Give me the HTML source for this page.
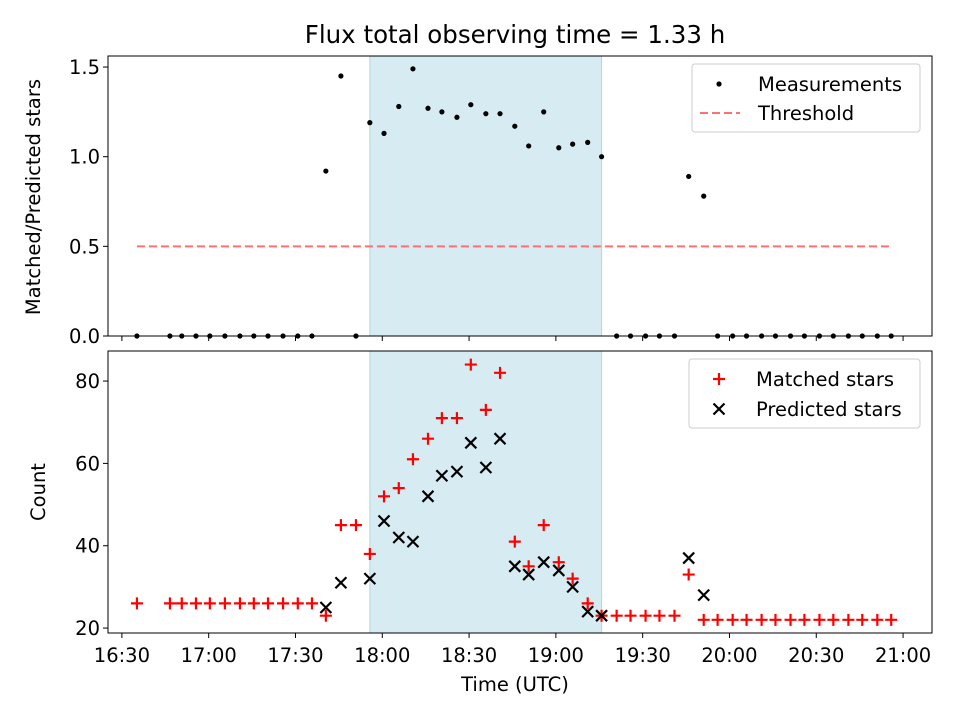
<!DOCTYPE html>
<html><head><meta charset="utf-8"><style>
body{margin:0;background:#fff;font-family:"DejaVu Sans","Liberation Sans",sans-serif}
svg text{font-family:"DejaVu Sans","Liberation Sans",sans-serif}
</style></head><body>
<svg id="chart" width="960" height="720" viewBox="0 0 960 720" xmlns="http://www.w3.org/2000/svg"></svg>
<script>
const times = [5.2,16.6,20.7,25.6,30.4,35.6,40.8,45.6,50.5,55.7,60.8,65.7,70.5,75.7,80.9,85.7,90.6,95.7,100.6,105.8,110.6,115.8,120.6,125.8,130.7,135.8,140.6,145.8,151,155.8,161,165.8,171,175.8,181,185.8,191,195.9,201.1,205.9,211.1,215.9,221.1,225.9,231.1,235.9,241.1,245.9,251.1,255.9,261.1,265.9];
const ratio = [0,0,0,0,0,0,0,0,0,0,0,0,0.92,1.45,0,1.19,1.13,1.28,1.49,1.27,1.25,1.22,1.29,1.24,1.24,1.17,1.06,1.25,1.05,1.07,1.08,1.00,0,0,0,0,0,0.89,0.78,0,0,0,0,0,0,0,0,0,0,0,0,0];
const matched = [26,26,26,26,26,26,26,26,26,26,26,26,23,45,45,38,52,54,61,66,71,71,84,73,82,41,35,45,36,32,26,23,23,23,23,23,23,33,22,22,22,22,22,22,22,22,22,22,22,22,22,22];
const predicted = [null,null,null,null,null,null,null,null,null,null,null,null,25,31,null,32,46,42,41,52,57,58,65,59,66,35,33,36,34,30,24,23,null,null,null,null,null,37,28,null,null,null,null,null,null,null,null,null,null,null,null,null];
const xTickVals = [0,30,60,90,120,150,180,210,240,270];
const xTickLabels = ["16:30","17:00","17:30","18:00","18:30","19:00","19:30","20:00","20:30","21:00"];
const topTicks = [0,0.5,1.0,1.5];
const botTicks = [20,40,60,80];
const shadeStart = 85.7, shadeEnd = 165.8;
const threshold = 0.5, thrStart = 5.2, thrEnd = 265.9;

const NS="http://www.w3.org/2000/svg";
const svg=document.getElementById('chart');
const L=108,R=932;
const xs=t=>L+(t-(-4.8))/(280-(-4.8))*(R-L);
const T1=56,B1=336, yTop=v=>B1-(v-0)/(1.5616)*(B1-T1);
const T2=351,B2=633, yBot=v=>B2-(v-18.8)/(87.3-18.8)*(B2-T2);
const FS=19.5, FT=24.5;
function el(tag,attrs,parent){const e=document.createElementNS(NS,tag);for(const k in attrs)e.setAttribute(k,attrs[k]);(parent||svg).appendChild(e);return e;}
function txt(s,attrs,parent){const e=el('text',attrs,parent);e.textContent=s;return e;}

const title=txt("Flux total observing time = 1.33 h",{x:515,y:43,'font-size':FT,'text-anchor':'middle'});


function panel(T,B,yf,ticks,fmt,name){
  const g=el('g',{});
  
  const sh=el('rect',{x:xs(shadeStart),y:T,width:xs(shadeEnd)-xs(shadeStart),height:B-T,fill:'#add8e6','fill-opacity':0.5,stroke:'#add8e6'},g);
  
  ticks.forEach(v=>{const y=yf(v);el('line',{x1:L-5,x2:L,y1:y,y2:y,stroke:'#000'},g);
    const t=txt(fmt(v),{x:L-8,y:y+7,'font-size':FS,'text-anchor':'end'},g);
    });
  xTickVals.forEach((v,i)=>{const x=xs(v);el('line',{x1:x,x2:x,y1:B,y2:B+5,stroke:'#000'},g);});
  return g;
}
const g1=panel(T1,B1,yTop,topTicks,v=>v.toFixed(1),'top-panel');
const g2=panel(T2,B2,yBot,botTicks,v=>String(v),'bottom-panel');
xTickVals.forEach((v,i)=>{const t=txt(xTickLabels[i],{x:xs(v),y:B2+29,'font-size':FS,'text-anchor':'middle'},g2);
  });

const th=el('line',{x1:xs(thrStart),x2:xs(thrEnd),y1:yTop(threshold),y2:yTop(threshold),stroke:'#ff7070','stroke-width':2,'stroke-dasharray':'8,4'},g1);

times.forEach((t,i)=>{const c=el('circle',{cx:xs(t),cy:yTop(ratio[i]),r:2.6,fill:'#000'},g1);
  });
times.forEach((t,i)=>{const x=xs(t),y=yBot(matched[i]);
  const p=el('path',{d:`M${x-6} ${y}H${x+6}M${x} ${y-6}V${y+6}`,stroke:'#f00','stroke-width':2.2},g2);
  
  if(predicted[i]!=null){const yy=yBot(predicted[i]);
    const q=el('path',{d:`M${x-5.5} ${yy-5.5}L${x+5.5} ${yy+5.5}M${x-5.5} ${yy+5.5}L${x+5.5} ${yy-5.5}`,stroke:'#000','stroke-width':2.2},g2);
    }
});
el('rect',{x:L,y:T1,width:R-L,height:B1-T1,fill:'none',stroke:'#000'},g1);
el('rect',{x:L,y:T2,width:R-L,height:B2-T2,fill:'none',stroke:'#000'},g2);
const yt1=txt("Matched/Predicted stars",{x:0,y:0,'font-size':FS,'text-anchor':'middle',transform:`translate(40,${(T1+B1)/2+1}) rotate(-90)`});

const yt2=txt("Count",{x:0,y:0,'font-size':FS,'text-anchor':'middle',transform:`translate(45,${(T2+B2)/2}) rotate(-90)`});

const xt=txt("Time (UTC)",{x:515,y:691,'font-size':FS,'text-anchor':'middle'});


const lg1=el('g',{});
el('rect',{x:692,y:64,width:228,height:68,rx:3,fill:'#fff','fill-opacity':0.8,stroke:'#ccc'},lg1);
el('circle',{cx:719,cy:84,r:2.6,fill:'#000'},lg1);
txt("Measurements",{x:758,y:91,'font-size':FS},lg1);
el('line',{x1:700,x2:740,y1:113,y2:113,stroke:'#ff7070','stroke-width':2,'stroke-dasharray':'8,4'},lg1);
txt("Threshold",{x:758,y:120,'font-size':FS},lg1);
const lg2=el('g',{});
el('rect',{x:689,y:359,width:231,height:69,rx:3,fill:'#fff','fill-opacity':0.8,stroke:'#ccc'},lg2);
el('path',{d:'M713 379H725M719 373V385',stroke:'#f00','stroke-width':2.2},lg2);
txt("Matched stars",{x:756,y:386,'font-size':FS},lg2);
el('path',{d:'M713.5 403.5L724.5 414.5M713.5 414.5L724.5 403.5',stroke:'#000','stroke-width':2.2},lg2);
txt("Predicted stars",{x:756,y:416,'font-size':FS},lg2);
</script>
</body></html>
